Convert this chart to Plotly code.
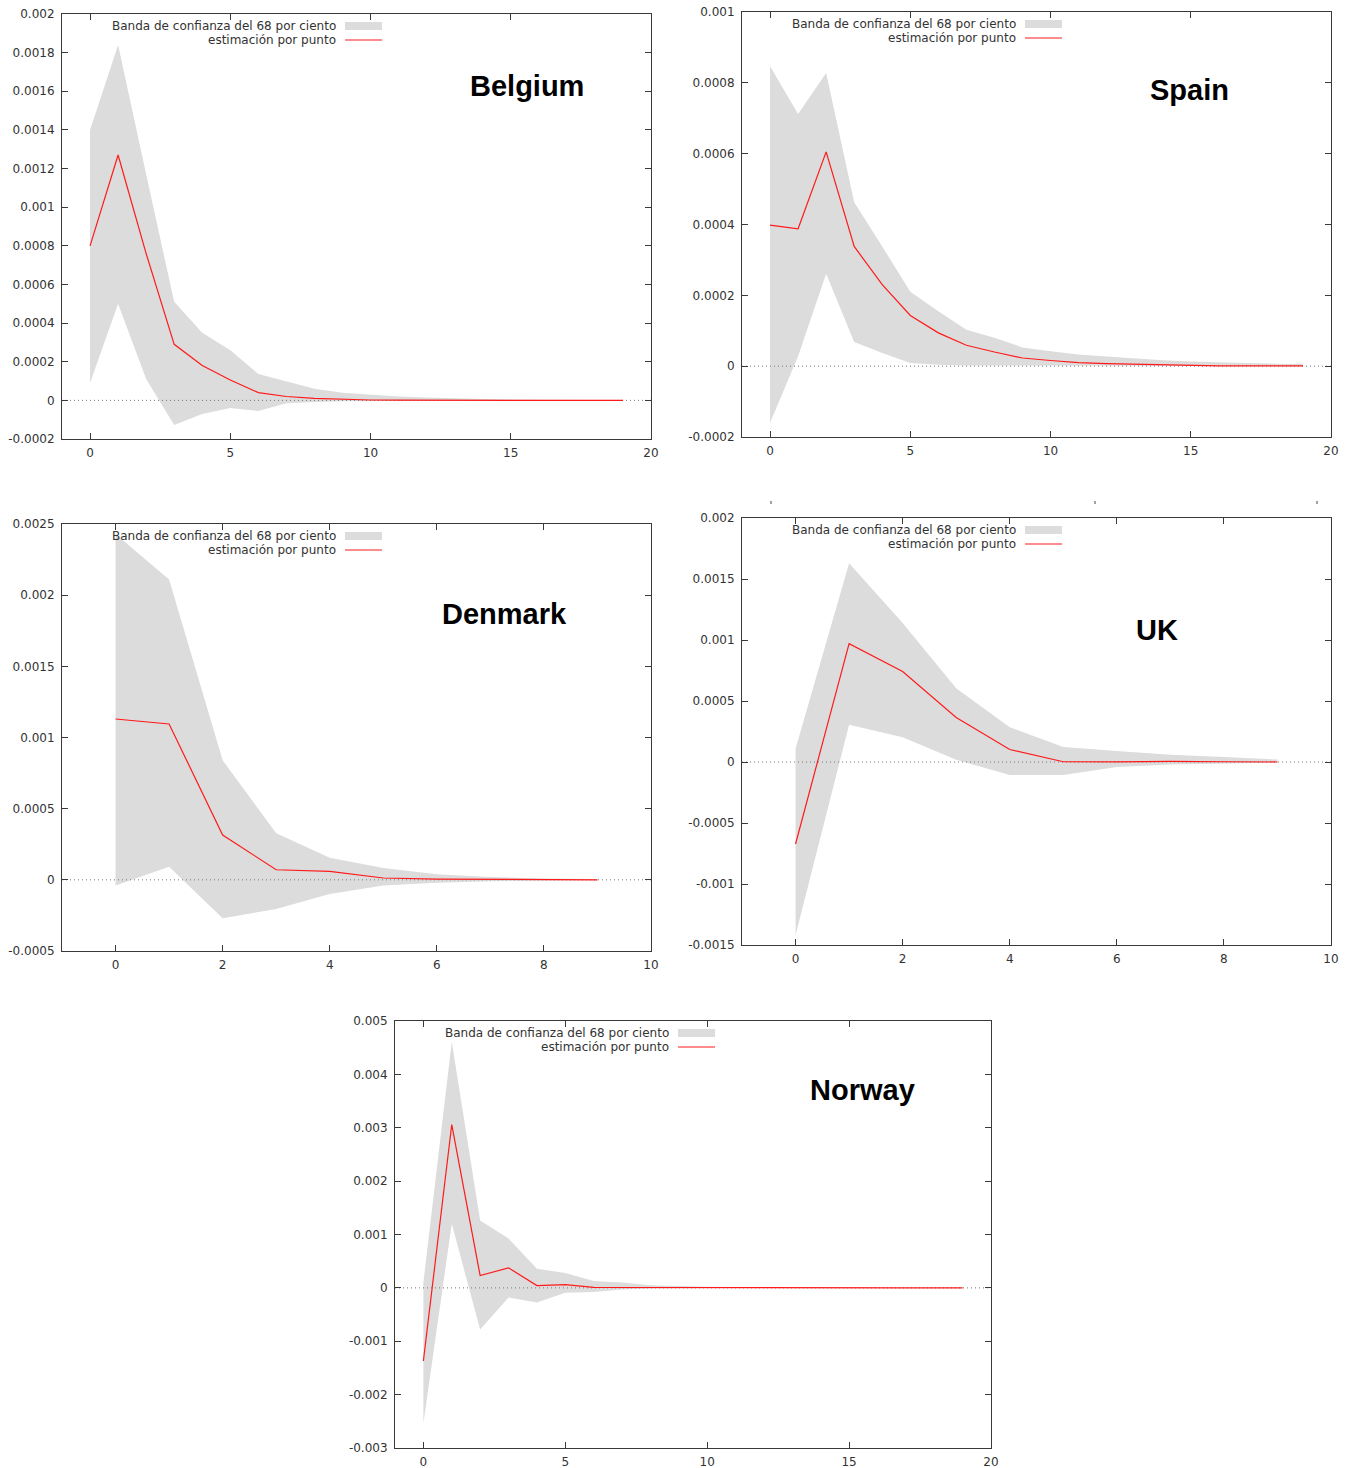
import plotly.graph_objects as go

# ---------------------------------------------------------------------------
# Impulse responses: point estimate with a 68% confidence band, five countries
# ---------------------------------------------------------------------------
horizon_20 = list(range(20))
horizon_10 = list(range(10))

belgium_point = [0.0008, 0.00127, 0.00076, 0.00029, 0.00018, 0.000105, 0.00004, 0.00002,
                 0.00001, 0.000005, 0.000002, 0.000001, 0, 0, 0, 0, 0, 0, 0, 0]
belgium_upper = [0.0014, 0.00184, 0.00117, 0.00051, 0.00035, 0.00026, 0.000136, 0.0001,
                 0.00006, 0.00004, 0.00003, 0.00002, 0.000015, 0.00001, 0.000007, 0.000005,
                 0.000004, 0.000003, 0.000002, 0.000002]
belgium_lower = [0.00009, 0.0005, 0.00011, -0.000127, -0.00007, -0.00004, -0.000055, -0.000015,
                 -0.000008, -0.000005, -0.000003, -0.000002, -0.000001, -0.000001, 0, 0, 0, 0, 0, 0]

spain_point = [0.000398, 0.000388, 0.000605, 0.000338, 0.00023, 0.000143, 0.000094, 0.000059,
               0.00004, 0.000023, 0.000016, 0.00001, 0.000007, 0.000005, 0.000003, 0.000001,
               0.000001, 0.000001, 0.000001, 0.000001]
spain_upper = [0.000847, 0.000712, 0.000828, 0.000463, 0.000338, 0.00021, 0.000155, 0.000103,
               0.00008, 0.000053, 0.000042, 0.000033, 0.000027, 0.000021, 0.000017, 0.000013,
               0.00001, 0.000009, 0.000007, 0.000006]
spain_lower = [-0.00016, 0.000028, 0.000261, 0.000068, 0.000037, 0.000009, 0.000004, 0.000002,
               0.000002, 0.000001, 0.000001, 0, 0, 0, 0, 0, 0, 0, 0, 0]

denmark_point = [0.00113, 0.001095, 0.000315, 0.000071, 0.00006, 0.000013, 0.000005, 0.000003,
                 0.000001, 0]
denmark_upper = [0.00243, 0.00211, 0.00084, 0.000327, 0.000156, 0.000084, 0.00004, 0.00002,
                 0.00001, 0.000005]
denmark_lower = [-0.00004, 0.000092, -0.00027, -0.000205, -0.0001, -0.00004, -0.00002, -0.00001,
                 -0.000005, -0.000002]

uk_point = [-0.000672, 0.00097, 0.000742, 0.000365, 0.000102, 0.000002, 0.000001, 0.000005,
            0.000002, 0]
uk_upper = [0.000108, 0.00163, 0.00114, 0.000605, 0.000285, 0.000122, 0.00009, 0.00006,
            0.00004, 0.00002]
uk_lower = [-0.00142, 0.000305, 0.000203, 0.000018, -0.000106, -0.000106, -0.00004, -0.00002,
            -0.00001, -0.000005]

norway_point = [-0.00137, 0.00306, 0.00023, 0.000375, 0.000044, 0.00006, 0.00001, 0.000008,
                0.000005, 0.000003, 0.000002, 0.000001, 0, 0, 0, 0, 0, 0, 0, 0]
norway_upper = [0.0001, 0.00461, 0.00126, 0.000925, 0.000356, 0.00028, 0.00013, 0.0001,
                0.00005, 0.00003, 0.00002, 0.000015, 0.00001, 0.000008, 0.000006, 0.000005,
                0.000004, 0.000003, 0.000002, 0.000002]
norway_lower = [-0.00254, 0.0012, -0.00078, -0.00018, -0.000275, -0.00009, -0.000075, -0.00003,
                -0.00001, -0.000006, -0.000004, -0.000002, -0.000001, 0, 0, 0, 0, 0, 0, 0]

# tick labels
x_ticks_20 = ["0", "5", "10", "15", "20"]
x_ticks_10 = ["0", "2", "4", "6", "8", "10"]
belgium_y_ticks = ["-0.0002", "0", "0.0002", "0.0004", "0.0006", "0.0008", "0.001",
                   "0.0012", "0.0014", "0.0016", "0.0018", "0.002"]
spain_y_ticks = ["-0.0002", "0", "0.0002", "0.0004", "0.0006", "0.0008", "0.001"]
denmark_y_ticks = ["-0.0005", "0", "0.0005", "0.001", "0.0015", "0.002", "0.0025"]
uk_y_ticks = ["-0.0015", "-0.001", "-0.0005", "0", "0.0005", "0.001", "0.0015", "0.002"]
norway_y_ticks = ["-0.003", "-0.002", "-0.001", "0", "0.001", "0.002", "0.003", "0.004", "0.005"]

band_label = "Banda de confianza del 68 por ciento"
point_label = "estimación por punto"

# ---------------------------------------------------------------------------
W, H = 1351, 1468
BAND = "#dcdcdc"
RED = "#ff1a1a"
AXIS = "#3a3a3a"
TXT = "#333333"
FONT = "DejaVu Sans"


def px(x):
    return x / W


def py(y):
    return 1 - y / H


panels = [
    # name, x, point, upper, lower, x ticks, y ticks, box (left, top, right, bottom), title centre
    ("Belgium", horizon_20, belgium_point, belgium_upper, belgium_lower, x_ticks_20,
     belgium_y_ticks, (62, 14, 651, 439), (527, 86)),
    ("Spain", horizon_20, spain_point, spain_upper, spain_lower, x_ticks_20,
     spain_y_ticks, (742, 12, 1331, 437), (1189, 90)),
    ("Denmark", horizon_10, denmark_point, denmark_upper, denmark_lower, x_ticks_10,
     denmark_y_ticks, (62, 524, 651, 951), (504, 614)),
    ("UK", horizon_10, uk_point, uk_upper, uk_lower, x_ticks_10,
     uk_y_ticks, (742, 518, 1331, 945), (1157, 630)),
    ("Norway", horizon_20, norway_point, norway_upper, norway_lower, x_ticks_20,
     norway_y_ticks, (395, 1021, 991, 1448), (862, 1090)),
]

fig = go.Figure()
annotations = []
shapes = []

for i, (name, xs, point, upper, lower, xt, yt, box, tpos) in enumerate(panels):
    n = i + 1
    xa = "x" if n == 1 else f"x{n}"
    ya = "y" if n == 1 else f"y{n}"
    xkey = "xaxis" if n == 1 else f"xaxis{n}"
    ykey = "yaxis" if n == 1 else f"yaxis{n}"
    left, top, right, bottom = box

    xvals = [float(v) for v in xt]
    yvals = [float(v) for v in yt]
    xr = [-1, xvals[-1]]
    yr = [yvals[0], yvals[-1]]

    # confidence band
    fig.add_trace(go.Scatter(
        x=list(xs) + list(xs)[::-1], y=list(upper) + list(lower)[::-1],
        fill="toself", fillcolor=BAND, line=dict(width=0), mode="lines",
        xaxis=xa, yaxis=ya, showlegend=False, hoverinfo="skip"))
    # zero axis
    fig.add_trace(go.Scatter(
        x=xr, y=[0, 0], mode="lines",
        line=dict(color="#777777", width=1, dash="1px,3px"),
        xaxis=xa, yaxis=ya, showlegend=False, hoverinfo="skip"))
    # point estimate
    fig.add_trace(go.Scatter(
        x=list(xs), y=list(point), mode="lines",
        line=dict(color=RED, width=1.2),
        xaxis=xa, yaxis=ya, showlegend=False))

    common = dict(showgrid=False, zeroline=False, showline=True, linecolor=AXIS, linewidth=1,
                  mirror="ticks", ticks="inside", ticklen=6, tickwidth=1, tickcolor=AXIS,
                  automargin=False,
                  tickfont=dict(family=FONT, size=12, color=TXT), fixedrange=True)
    fig.layout[xkey] = dict(domain=[px(left), px(right)], range=xr, anchor=ya,
                            tickvals=xvals, ticktext=xt, ticklabelstandoff=3, **common)
    fig.layout[ykey] = dict(domain=[py(bottom), py(top)], range=yr, anchor=xa,
                            tickvals=yvals, ticktext=yt, ticklabelstandoff=4, **common)

    # country title
    annotations.append(dict(text=f"<b>{name}</b>", x=px(tpos[0]), y=py(tpos[1]),
                            xref="paper", yref="paper", showarrow=False,
                            xanchor="center", yanchor="middle",
                            font=dict(family="Liberation Sans", size=29, color="#000000")))

    # key
    kx = left + 276
    for j, label in enumerate([band_label, point_label]):
        annotations.append(dict(text=label, x=px(kx), y=py(top + 12 + 14 * j),
                                xref="paper", yref="paper", showarrow=False,
                                xanchor="right", yanchor="middle",
                                font=dict(family=FONT, size=12, color=TXT)))
    shapes.append(dict(type="rect", xref="paper", yref="paper",
                       x0=px(kx + 7), x1=px(kx + 44), y0=py(top + 16), y1=py(top + 8),
                       fillcolor=BAND, line=dict(width=0)))
    shapes.append(dict(type="line", xref="paper", yref="paper",
                       x0=px(kx + 7), x1=px(kx + 44), y0=py(top + 26), y1=py(top + 26),
                       line=dict(color=RED, width=1.2)))

# small stray tick marks above the UK panel
for sx in (771, 1095, 1317):
    shapes.append(dict(type="line", xref="paper", yref="paper",
                       x0=px(sx), x1=px(sx), y0=py(501), y1=py(504),
                       line=dict(color="#444444", width=1)))

fig.update_layout(width=W, height=H, margin=dict(l=0, r=0, t=0, b=0),
                  paper_bgcolor="white", plot_bgcolor="white",
                  annotations=annotations, shapes=shapes, showlegend=False)

fig.write_html("out.html")
